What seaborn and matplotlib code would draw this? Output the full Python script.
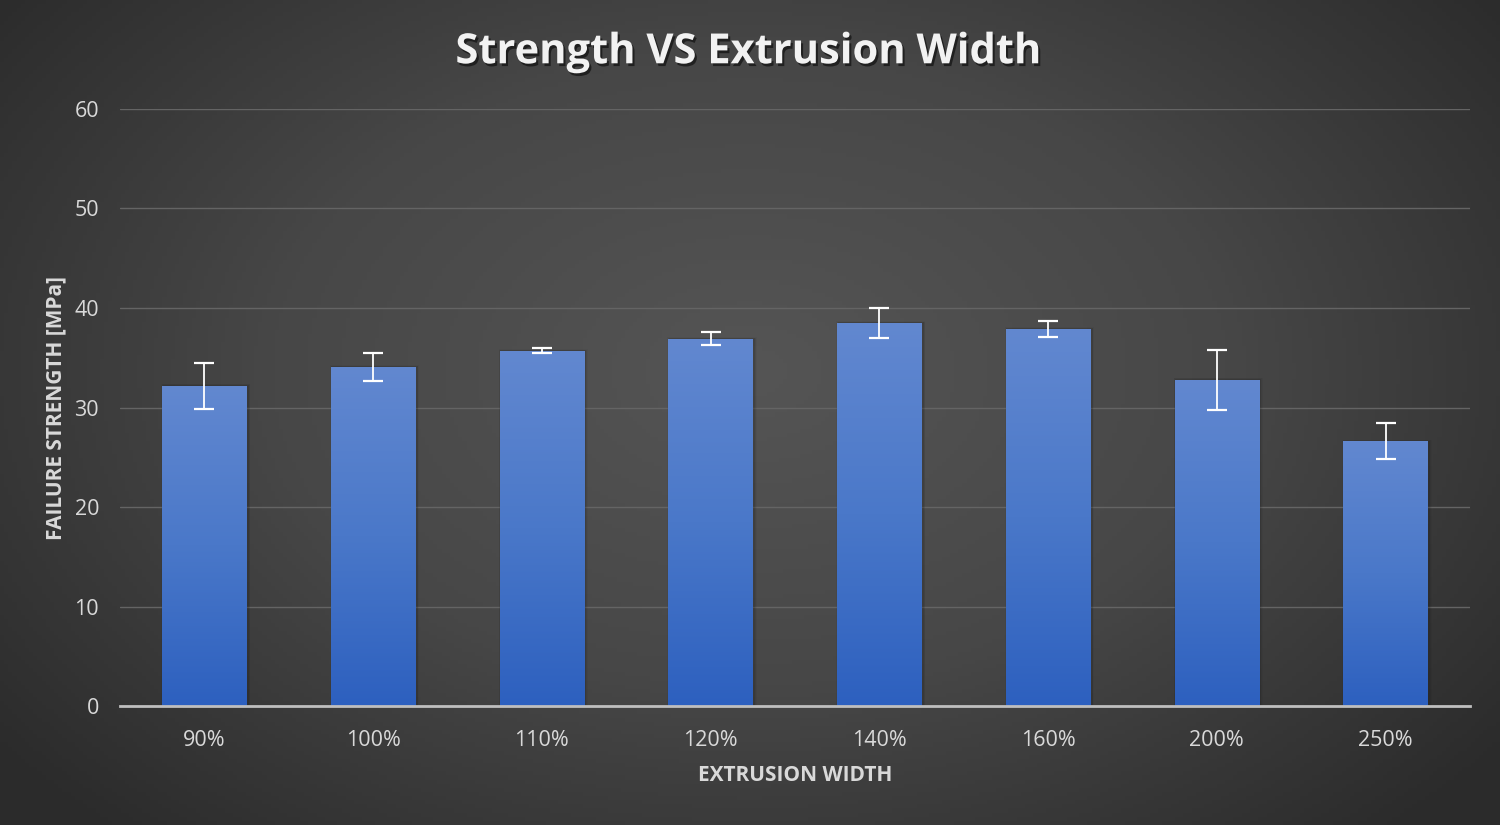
import numpy as np
import pandas as pd
import matplotlib
matplotlib.use("Agg")
import matplotlib.pyplot as plt
import matplotlib.patheffects as pe
from matplotlib.colors import LinearSegmentedColormap
import seaborn as sns

# values
widths = ["90%", "100%", "110%", "120%", "140%", "160%", "200%", "250%"]
strength = [32.2, 34.1, 35.7, 36.9, 38.5, 37.9, 32.8, 26.6]
strength_err = [2.3, 1.4, 0.25, 0.65, 1.5, 0.8, 3.0, 1.8]

df = pd.DataFrame({"width": widths, "strength": strength, "err": strength_err})

sns.set_theme(style="dark")
plt.rcParams["font.family"] = ["Open Sans", "DejaVu Sans"]

fig = plt.figure(figsize=(15, 8.25), dpi=100)

# radial dark gray background
bg = fig.add_axes([0, 0, 1, 1], zorder=0)
yy, xx = np.mgrid[0:1:200j, 0:1:360j]
r = np.sqrt(((xx - 0.5) / 0.75) ** 2 + ((yy - 0.45) / 0.9) ** 2)
bg_cmap = LinearSegmentedColormap.from_list("bg", ["#555555", "#474747", "#2b2b2b"])
bg.imshow(r, cmap=bg_cmap, aspect="auto", extent=[0, 1, 0, 1], vmin=0, vmax=0.85)
bg.set_axis_off()

ax = fig.add_axes([0.08, 0.144, 0.9, 0.724], zorder=1)
ax.set_facecolor("none")

sns.barplot(data=df, x="width", y="strength", color="#4472c4", width=0.5,
            errorbar=None, ax=ax, zorder=3)

# vertical gradient on each bar + soft shadow
bar_cmap = LinearSegmentedColormap.from_list("bar", ["#2d60bf", "#4a78c9", "#6288d0"])
grad = np.linspace(0, 1, 256).reshape(-1, 1)
for p in ax.patches:
    x0, y0 = p.get_x(), p.get_y()
    w, h = p.get_width(), p.get_height()
    p.set_facecolor("none")
    p.set_edgecolor("none")
    im = ax.imshow(grad, cmap=bar_cmap, origin="lower", aspect="auto",
                   extent=[x0, x0 + w, y0, y0 + h], zorder=3)
    im.set_clip_path(p)
    for k, a in enumerate([0.14, 0.09, 0.05]):
        d = 0.01 * (k + 1)
        ax.add_patch(plt.Rectangle((x0 - d / 2 + 0.008, y0), w + d, h + d * 6,
                                   facecolor="#1a1a1a", alpha=a, edgecolor="none", zorder=2))

ax.errorbar(np.arange(len(widths)), df["strength"], yerr=df["err"], fmt="none",
            ecolor="white", elinewidth=1.3, capsize=7, capthick=1.6, zorder=5)

ax.set_xlim(-0.5, len(widths) - 0.5)
ax.set_ylim(0, 60)
ax.set_yticks(range(0, 61, 10))
ax.grid(axis="y", color="#646464", linewidth=1)
ax.grid(axis="x", visible=False)
for s in ["top", "right", "left"]:
    ax.spines[s].set_visible(False)
ax.spines["bottom"].set_color("#bfbfbf")
ax.spines["bottom"].set_linewidth(2)
ax.spines["bottom"].set_zorder(6)

ax.tick_params(axis="both", colors="#d9d9d9", labelsize=15.5, length=0)
ax.tick_params(axis="x", pad=17)
ax.tick_params(axis="y", pad=15)

ax.set_xlabel("EXTRUSION WIDTH", color="#d9d9d9", fontsize=15, fontweight="bold", labelpad=10)
ax.set_ylabel("FAILURE STRENGTH [MPa]", color="#d9d9d9", fontsize=15, fontweight="bold", labelpad=6)

fig.text(0.499, 0.936, "Strength VS Extrusion Width", ha="center", va="center",
         color="#f2f2f2", fontsize=30, fontweight="bold",
         path_effects=[pe.withSimplePatchShadow(offset=(1.5, -2), shadow_rgbFace="#111111", alpha=0.7)])

fig.savefig("out.png", dpi=100)
